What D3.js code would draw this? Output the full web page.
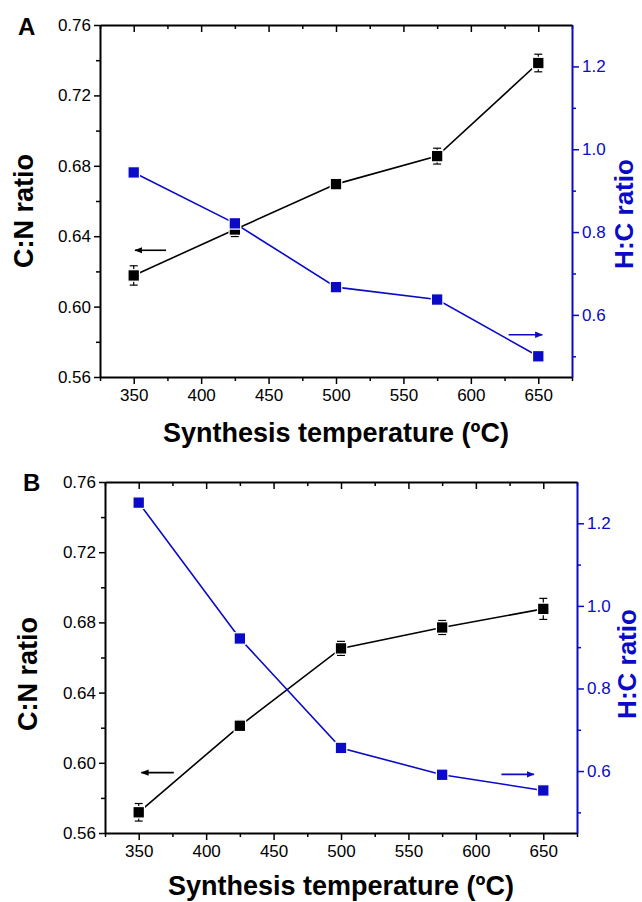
<!DOCTYPE html>
<html lang="en">
<head>
<meta charset="utf-8">
<title>C:N and H:C ratio vs synthesis temperature</title>
<script src="https://cdn.jsdelivr.net/npm/d3@7"></script>
<style>
  body { margin: 0; background: #fff; }
  svg text { font-family: "Liberation Sans", Arial, sans-serif; }
</style>
</head>
<body>
<svg id="chart" width="642" height="902"></svg>
<script>
// ---- data ----
var temps = [350, 425, 500, 575, 650];

var cnA    = [0.6177, 0.6438, 0.6696, 0.6855, 0.7384];
var cnErrA = [0.0055, 0.004, 0.003, 0.0045, 0.005];
var hcA    = [0.944, 0.821, 0.667, 0.637, 0.500];

var cnB    = [0.5718, 0.6211, 0.6652, 0.6771, 0.6877];
var cnErrB = [0.005, 0.003, 0.004, 0.004, 0.006];
var hcB    = [1.250, 0.921, 0.656, 0.591, 0.553];

var xTicks  = [350, 400, 450, 500, 550, 600, 650];
var xMinor  = [325, 375, 425, 475, 525, 575, 625, 675];
var cnTicks = [0.56, 0.60, 0.64, 0.68, 0.72, 0.76];
var cnMinor = [0.58, 0.62, 0.66, 0.70, 0.74];
var hcTicks = [0.6, 0.8, 1.0, 1.2];
var hcMinor = [0.5, 0.7, 0.9, 1.1];

// arrows: which axis they belong to, from/to temperature, level
var arrowsA = [{axis: 'cn', from: 374, to: 351, at: 0.632},
               {axis: 'hc', from: 628, to: 653, at: 0.552}];
var arrowsB = [{axis: 'cn', from: 376, to: 352, at: 0.5944},
               {axis: 'hc', from: 619, to: 643, at: 0.592}];

var BLUE = '#0a0ac8';
var FONT = '"Liberation Sans", Arial, sans-serif';

var svg = d3.select('#chart');

var defs = svg.append('defs');
[['head-black', '#000'], ['head-blue', BLUE]].forEach(function(h) {
    defs.append('marker')
        .attr('id', h[0])
        .attr('viewBox', '0 0 10 10')
        .attr('refX', 9).attr('refY', 5)
        .attr('markerWidth', 5).attr('markerHeight', 5)
        .attr('orient', 'auto')
      .append('path')
        .attr('d', 'M0,1 L10,5 L0,9 Z')
        .attr('fill', h[1]);
});

function styleAxis(g, color) {
    g.attr('font-size', 17).attr('font-family', FONT);
    g.select('.domain').attr('stroke', color).attr('stroke-width', 2);
    g.selectAll('.tick line').attr('stroke', color).attr('stroke-width', 1.5);
    g.selectAll('.tick text').attr('fill', color);
}

function minor(g, axis, color) {
    g.call(axis);
    g.select('.domain').remove();
    g.selectAll('.tick line').attr('stroke', color).attr('stroke-width', 1.5);
}

function drawPanel(p, cn, cnErr, hc, arrows) {
    var g = svg.append('g');
    var x  = d3.scaleLinear().domain([325, 675]).range([p.x0, p.x1]);
    var yL = d3.scaleLinear().domain([0.56, 0.76]).range([p.y1, p.y0]);
    var yR = d3.scaleLinear().domain([0.45, 1.30]).range([p.y1, p.y0]);

    // bottom axis
    var gb = g.append('g').attr('transform', 'translate(0,' + p.y1 + ')');
    gb.call(d3.axisBottom(x).tickValues(xTicks).tickSizeInner(7).tickSizeOuter(0)
        .tickPadding(5).tickFormat(d3.format('d')));
    styleAxis(gb, '#000');
    minor(g.append('g').attr('transform', 'translate(0,' + p.y1 + ')'),
          d3.axisBottom(x).tickValues(xMinor).tickSize(4).tickFormat(''), '#000');

    // top axis, ticks pointing in
    var gt = g.append('g').attr('transform', 'translate(0,' + p.y0 + ')');
    gt.call(d3.axisTop(x).tickValues(xTicks).tickSizeInner(-7).tickSizeOuter(0).tickFormat(''));
    styleAxis(gt, '#000');
    minor(g.append('g').attr('transform', 'translate(0,' + p.y0 + ')'),
          d3.axisTop(x).tickValues(xMinor).tickSize(-4).tickFormat(''), '#000');

    // left axis (C:N)
    var gl = g.append('g').attr('transform', 'translate(' + p.x0 + ',0)');
    gl.call(d3.axisLeft(yL).tickValues(cnTicks).tickSizeInner(6).tickSizeOuter(0)
        .tickPadding(3).tickFormat(d3.format('.2f')));
    styleAxis(gl, '#000');
    minor(g.append('g').attr('transform', 'translate(' + p.x0 + ',0)'),
          d3.axisLeft(yL).tickValues(cnMinor).tickSize(4).tickFormat(''), '#000');

    // right axis (H:C)
    var gr = g.append('g').attr('transform', 'translate(' + p.x1 + ',0)');
    gr.call(d3.axisRight(yR).tickValues(hcTicks).tickSizeInner(7).tickSizeOuter(0)
        .tickPadding(3).tickFormat(d3.format('.1f')));
    styleAxis(gr, BLUE);
    minor(g.append('g').attr('transform', 'translate(' + p.x1 + ',0)'),
          d3.axisRight(yR).tickValues(hcMinor).tickSize(4).tickFormat(''), BLUE);

    // series lines
    var lineL = d3.line().x(function(d, i) { return x(temps[i]); }).y(function(d) { return yL(d); });
    var lineR = d3.line().x(function(d, i) { return x(temps[i]); }).y(function(d) { return yR(d); });

    g.append('path').datum(cn).attr('d', lineL)
        .attr('fill', 'none').attr('stroke', '#000').attr('stroke-width', 1.6);
    g.append('path').datum(hc).attr('d', lineR)
        .attr('fill', 'none').attr('stroke', BLUE).attr('stroke-width', 1.6);

    // C:N error bars
    var eb = g.append('g').selectAll('g').data(cn).join('g');
    eb.append('line')
        .attr('x1', function(d, i) { return x(temps[i]); })
        .attr('x2', function(d, i) { return x(temps[i]); })
        .attr('y1', function(d, i) { return yL(d + cnErr[i]); })
        .attr('y2', function(d, i) { return yL(d - cnErr[i]); })
        .attr('stroke', '#000').attr('stroke-width', 1.2);
    [1, -1].forEach(function(s) {
        eb.append('line')
            .attr('x1', function(d, i) { return x(temps[i]) - 4; })
            .attr('x2', function(d, i) { return x(temps[i]) + 4; })
            .attr('y1', function(d, i) { return yL(d + s * cnErr[i]); })
            .attr('y2', function(d, i) { return yL(d + s * cnErr[i]); })
            .attr('stroke', '#000').attr('stroke-width', 1.2);
    });

    var ms = 11.5;
    g.append('g').selectAll('rect').data(cn).join('rect')
        .attr('x', function(d, i) { return x(temps[i]) - ms / 2; })
        .attr('y', function(d) { return yL(d) - ms / 2; })
        .attr('width', ms).attr('height', ms)
        .attr('fill', '#000').attr('stroke', '#fff').attr('stroke-width', 1.2);
    g.append('g').selectAll('rect').data(hc).join('rect')
        .attr('x', function(d, i) { return x(temps[i]) - ms / 2; })
        .attr('y', function(d) { return yR(d) - ms / 2; })
        .attr('width', ms).attr('height', ms)
        .attr('fill', BLUE).attr('stroke', '#fff').attr('stroke-width', 1.2);

    // direction arrows
    g.selectAll('line.arrow').data(arrows).join('line')
        .attr('class', 'arrow')
        .attr('x1', function(d) { return x(d.from); })
        .attr('x2', function(d) { return x(d.to); })
        .attr('y1', function(d) { return d.axis == 'cn' ? yL(d.at) : yR(d.at); })
        .attr('y2', function(d) { return d.axis == 'cn' ? yL(d.at) : yR(d.at); })
        .attr('stroke', function(d) { return d.axis == 'cn' ? '#000' : BLUE; })
        .attr('stroke-width', 1.6)
        .attr('marker-end', function(d) { return d.axis == 'cn' ? 'url(#head-black)' : 'url(#head-blue)'; });

    // labels
    g.append('text').text(p.label)
        .attr('x', p.labelX).attr('y', p.labelY)
        .attr('font-size', 24).attr('font-weight', 'bold');

    g.append('text').text('Synthesis temperature (ºC)')
        .attr('x', (p.x0 + p.x1) / 2).attr('y', p.titleY)
        .attr('text-anchor', 'middle').attr('dominant-baseline', 'central')
        .attr('font-size', 27).attr('font-weight', 'bold');

    g.append('text').text('C:N ratio')
        .attr('transform', 'translate(' + p.cnX + ',' + p.cnY + ') rotate(-90)')
        .attr('text-anchor', 'middle').attr('dominant-baseline', 'central')
        .attr('font-size', 27).attr('font-weight', 'bold');

    g.append('text').text('H:C ratio')
        .attr('transform', 'translate(' + p.hcX + ',' + p.hcY + ') rotate(-90)')
        .attr('text-anchor', 'middle').attr('dominant-baseline', 'central')
        .attr('font-size', 26).attr('font-weight', 'bold').attr('fill', BLUE);
}

drawPanel({x0: 100, x1: 572, y0: 25, y1: 377, label: 'A', labelX: 18, labelY: 35,
           titleY: 433, cnX: 24, cnY: 211, hcX: 624, hcY: 214},
          cnA, cnErrA, hcA, arrowsA);
drawPanel({x0: 105, x1: 577, y0: 482, y1: 833, label: 'B', labelX: 23, labelY: 491,
           titleY: 886, cnX: 28, cnY: 674, hcX: 627, hcY: 664},
          cnB, cnErrB, hcB, arrowsB);
</script>
</body>
</html>
